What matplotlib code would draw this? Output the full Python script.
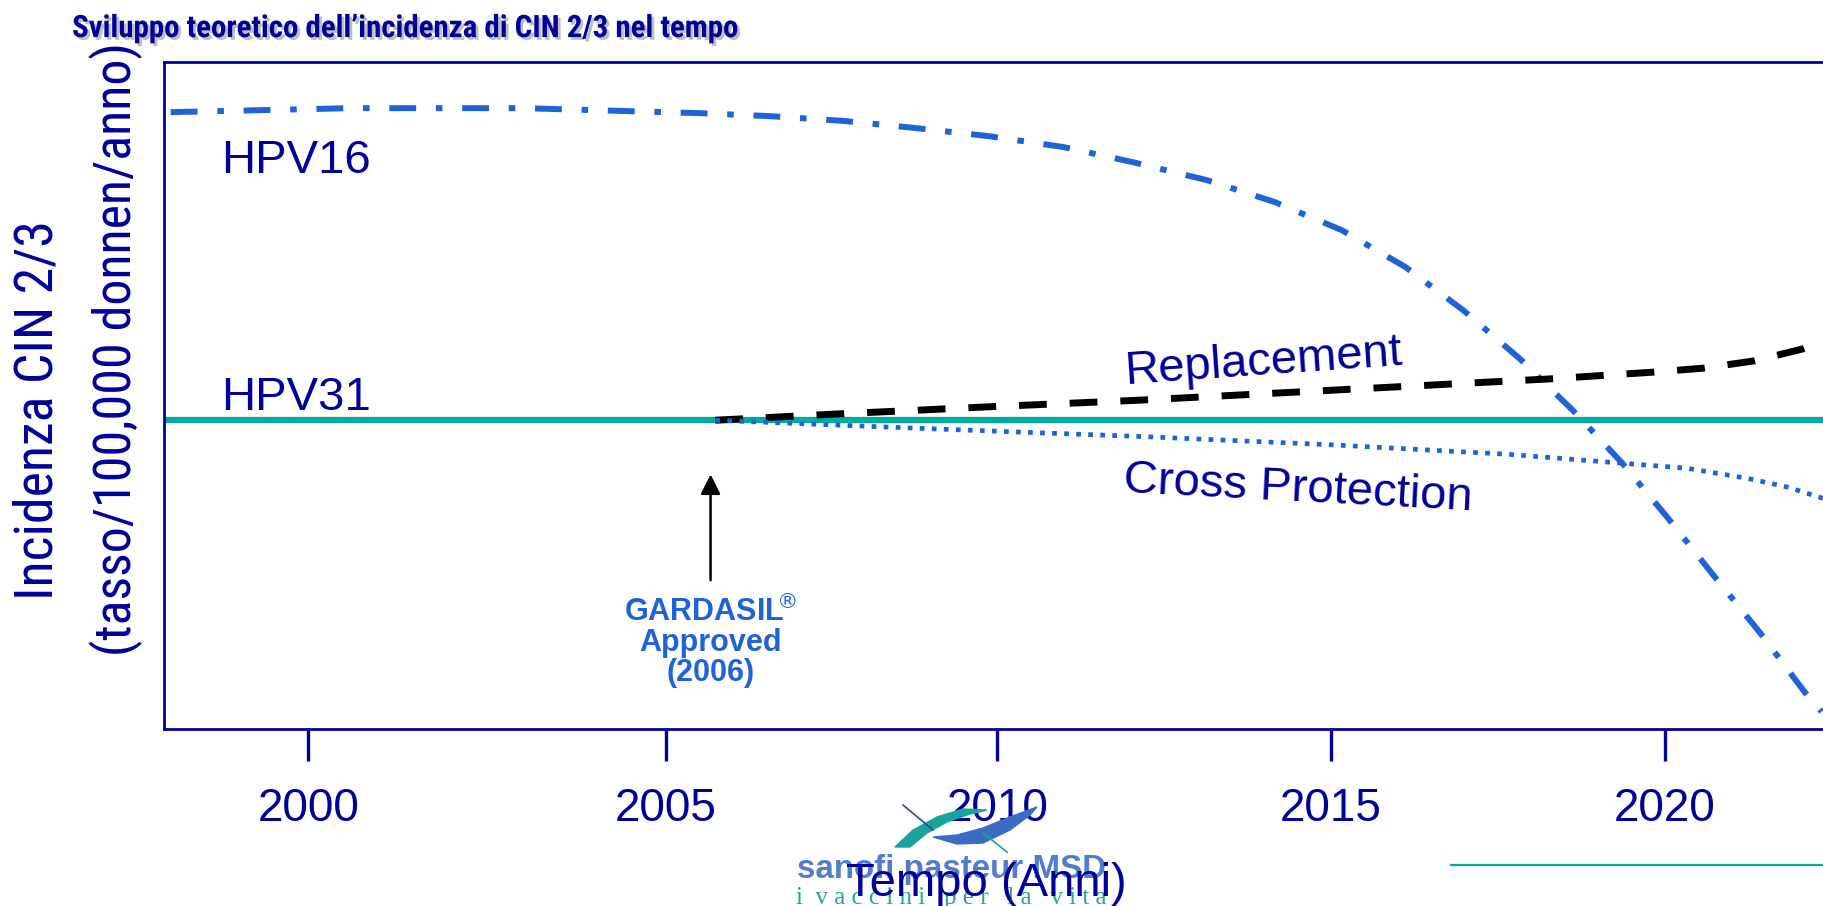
import numpy as np
import matplotlib
matplotlib.use("Agg")
import matplotlib.pyplot as plt
import matplotlib.patheffects as pe
from matplotlib import font_manager as fm
from matplotlib.lines import Line2D
from matplotlib.patches import Polygon

plt.rcParams['font.family'] = ['Liberation Sans', 'DejaVu Sans']

NAVY = "#000099"
BLUE = "#1f63d6"
TEAL = "#00aba0"

# HPV16: curva teorica (unita' arbitrarie, 0-100)
years_16 = [1997.61, 2000.3, 2002.9, 2005.54, 2006.59, 2007.68, 2008.79,
            2009.87, 2010.97, 2012.03, 2013.14, 2014.16, 2015.16, 2016.11,
            2016.98, 2017.83, 2018.62, 2019.36, 2020.05, 2020.75, 2021.43,
            2022.1, 2022.35]
hpv16 = [92.5, 93.1, 93.1, 92.35, 91.9, 91.2, 90.1,
         88.9, 87.3, 85.0, 82.3, 79.0, 74.8, 69.3,
         62.8, 55.5, 47.8, 39.9, 31.6, 22.8, 14.4,
         5.5, 2.6]

# HPV31: costante
years_31 = [1997.5, 2023]
hpv31 = [46.3, 46.3]

# scenario "Replacement"
years_repl = [2005.77, 2007.52, 2009.84, 2012.11, 2014.43, 2016.74, 2018.28,
              2019.81, 2020.57, 2021.34, 2022.07, 2022.4]
replacement = [46.3, 47.2, 48.3, 49.3, 50.5, 51.7, 52.5,
               53.5, 54.1, 55.2, 57.0, 58.3]

# scenario "Cross Protection"
years_cross = [2005.77, 2008.79, 2012.29, 2015.03, 2017.64, 2019.18,
               2020.33, 2021.23, 2021.83, 2022.4]
cross = [46.3, 45.1, 43.8, 42.6, 41.2, 40.0,
         39.1, 37.6, 36.3, 34.5]

tick_pos = [1999.67, 2005.03, 2010, 2015, 2020]
tick_labels = ["2000", "2005", "2010", "2015", "2020"]

approval_year = 2005.7

# logo sanofi pasteur MSD (pixel della figura, origine in alto a sinistra)
logo_teal = [(895, 847), (913, 830), (937, 817), (963, 809), (987, 810),
             (970, 814), (947, 822), (927, 833), (910, 847)]
logo_blue = [(1037, 807), (1010, 817), (983, 828), (957, 835), (933, 837),
             (957, 844), (983, 843), (1010, 830), (1030, 815)]
logo_line1 = [(903, 805), (933, 830)]
logo_line2 = [(983, 833), (1007, 852)]

W, H = 1823, 906


def narrow_family():
    # cerca un font stretto (tipo Arial Narrow) se installato
    names = {f.name for f in fm.fontManager.ttflist}
    for n in ['Liberation Sans Narrow', 'Arial Narrow', 'Roboto Condensed',
              'Open Sans Condensed', 'Noto Sans Condensed']:
        if n in names:
            return dict(family=[n, 'DejaVu Sans'])
    for f in fm.fontManager.ttflist:
        if f.name == 'DejaVu Sans' and f.stretch == 'condensed':
            return dict(family=['DejaVu Sans'], fontstretch='condensed')
    return dict(family=['Liberation Sans', 'DejaVu Sans'])


def to_fig(pts):
    return [(x / W, 1 - y / H) for x, y in pts]


fig = plt.figure(figsize=(18.23, 9.06), dpi=100)
ax = fig.add_axes([0.090, 0.1954, 0.933, 0.736])

ax.plot(years_31, hpv31, color=TEAL, lw=4.5, zorder=2)
ax.plot(years_16, hpv16, color=BLUE, lw=4.3, zorder=3,
        dashes=(4.5, 3.3, 1.1, 3.3))
ax.plot(years_repl, replacement, color='black', lw=5, zorder=3,
        dashes=(4.0, 3.3))
ax.plot(years_cross, cross, color=BLUE, lw=3.4, zorder=3,
        dashes=(1.0, 1.55))

ax.set_xlim(1997.51, 2023)
ax.set_ylim(0, 100)

for s in ax.spines.values():
    s.set_color(NAVY)
    s.set_linewidth(2)

ax.set_xticks(tick_pos)
ax.set_xticklabels(tick_labels)
ax.set_yticks([])
ax.tick_params(axis='x', direction='out', length=23, width=2.4,
               color=NAVY, labelcolor=NAVY, labelsize=33, pad=19)

ax.text(1998.36, 85.2, "HPV16", color=NAVY, fontsize=34,
        ha='left', va='center')
ax.text(1998.36, 49.6, "HPV31", color=NAVY, fontsize=34,
        ha='left', va='center')
ax.text(2013.99, 55.0, "Replacement", color=NAVY, fontsize=34,
        ha='center', va='center', rotation=4, rotation_mode='anchor')
ax.text(2014.5, 36.0, "Cross Protection", color=NAVY, fontsize=34,
        ha='center', va='center', rotation=-3, rotation_mode='anchor')

ax.annotate("", xy=(approval_year, 38.6), xytext=(approval_year, 21.9),
            arrowprops=dict(arrowstyle='-|>', color='black', lw=1.8,
                            mutation_scale=30))
ax.text(approval_year, 19.8, "GARDASIL$^{\\!\\!\\circledR}$\nApproved\n(2006)",
        color=BLUE, fontsize=22, fontweight='bold', ha='center',
        va='top', linespacing=1.0)

nf = narrow_family()

# titolo con ombra
title = fig.text(0.0395, 0.969,
                 "Sviluppo teoretico dell\u2019incidenza di CIN 2/3 nel tempo",
                 fontsize=22, fontweight='bold', color=NAVY,
                 ha='left', va='center',
                 path_effects=[pe.SimplePatchShadow(offset=(2, -2),
                                                    shadow_rgbFace='#b0b0b0',
                                                    alpha=0.8),
                               pe.Normal()], **nf)

# etichette asse y
yl1 = fig.text(0.0208, 0.547, "Incidenza CIN 2/3", fontsize=34,
               color=NAVY, rotation=90, ha='center', va='center', **nf)
yl2 = fig.text(0.0636, 0.615, "(tasso/100,000 donnen/anno)", fontsize=34,
               color=NAVY, rotation=90, ha='center', va='center', **nf)

# logo
fig.add_artist(Polygon(to_fig(logo_teal), closed=True, color="#1aa39b",
                       transform=fig.transFigure, zorder=1))
fig.add_artist(Polygon(to_fig(logo_blue), closed=True, color="#3a6cc4",
                       transform=fig.transFigure, zorder=1))
for seg, c in [(logo_line1, "#2b4a9a"), (logo_line2, "#1aa39b")]:
    xs, ys = zip(*to_fig(seg))
    fig.add_artist(Line2D(xs, ys, color=c, lw=1.2,
                          transform=fig.transFigure, zorder=1))
logo1 = fig.text(0.522, 0.040, "sanofi pasteur MSD", color="#3f70c4",
                 fontsize=24, fontweight='bold', ha='center', va='center',
                 alpha=0.9, zorder=1)
logo2 = fig.text(0.522, 0.009, "i  v a c c i n i   p e r   l a   v i t a",
                 color="#2aa39a", fontsize=17, family='Liberation Serif',
                 ha='center', va='center', zorder=1)

fig.text(0.541, 0.024, "Tempo (Anni)", color=NAVY, fontsize=34,
         ha='center', va='center', zorder=5)

fig.add_artist(Line2D([0.796, 1.0], [0.045, 0.045], color=TEAL, lw=1.6,
                      transform=fig.transFigure))

# adatta le dimensioni dei testi alle larghezze del riferimento
fig.canvas.draw()
r = fig.canvas.get_renderer()
for t, target, vertical in [(title, 666, False), (yl1, 380, True),
                            (yl2, 616, True), (logo1, 310, False),
                            (logo2, 310, False)]:
    bb = t.get_window_extent(renderer=r)
    cur = bb.height if vertical else bb.width
    t.set_fontsize(t.get_fontsize() * target / cur)

fig.savefig("out.png", dpi=100)
